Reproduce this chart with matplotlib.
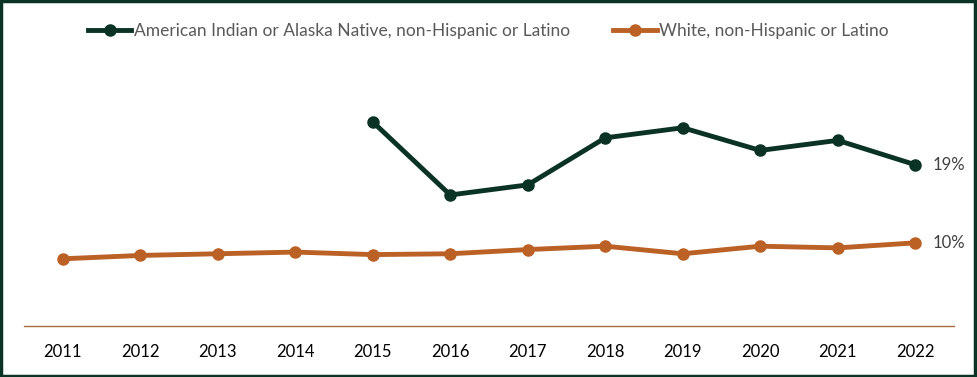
import matplotlib
matplotlib.use("Agg")
import matplotlib.pyplot as plt

plt.rcParams['font.family'] = ['Lato', 'DejaVu Sans']

years = [2011, 2012, 2013, 2014, 2015, 2016, 2017, 2018, 2019, 2020, 2021, 2022]
aian_years = [2015, 2016, 2017, 2018, 2019, 2020, 2021, 2022]
aian = [24.3, 15.6, 16.8, 22.4, 23.6, 20.9, 22.1, 19.2]
white = [8.0, 8.4, 8.6, 8.8, 8.5, 8.6, 9.1, 9.5, 8.6, 9.5, 9.3, 9.9]
end_labels = ["19%", "10%"]

green = "#0a3326"
orange = "#bb6125"

fig = plt.figure(figsize=(9.77, 3.77), dpi=100)
ax = fig.add_axes([24 / 977, 1 - 326 / 377, 930 / 977, 252 / 377])

ax.plot(aian_years, aian, color=green, lw=3.5, marker='o', ms=8,
        label="American Indian or Alaska Native, non-Hispanic or Latino")
ax.plot(years, white, color=orange, lw=3.5, marker='o', ms=8,
        label="White, non-Hispanic or Latino")

ax.text(aian_years[-1] + 0.23, aian[-1], end_labels[0], va='center', ha='left',
        fontsize=12, color="#404040")
ax.text(years[-1] + 0.23, white[-1], end_labels[1], va='center', ha='left',
        fontsize=12, color="#404040")

ax.set_xlim(2010.5, 2022.5)
ax.set_ylim(0, 30)
ax.set_xticks(years)
ax.set_xticklabels([str(y) for y in years], fontsize=12, color="#000000")
ax.tick_params(axis='x', length=0, pad=13)
ax.set_yticks([])
for s in ['top', 'right', 'left']:
    ax.spines[s].set_visible(False)
ax.spines['bottom'].set_color("#a86a3c")
ax.spines['bottom'].set_linewidth(1)

leg = fig.legend(loc='upper center', bbox_to_anchor=(0.5, 0.98), ncol=2,
                 frameon=False, fontsize=12.5, handlelength=2.5, handletextpad=0.15,
                 columnspacing=2.5)
for t in leg.get_texts():
    t.set_color("#595959")

fig.patches.append(plt.Rectangle((0.001, 0.002), 0.997, 0.995, transform=fig.transFigure,
                                 fill=False, edgecolor=green, lw=2.5))

fig.savefig("out.png", dpi=100)
